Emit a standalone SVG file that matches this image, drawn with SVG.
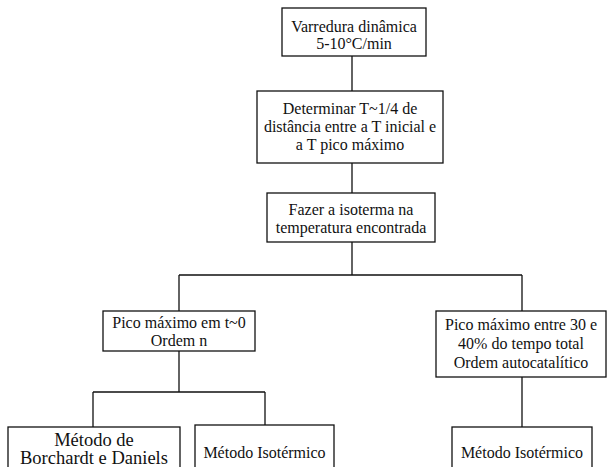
<svg xmlns="http://www.w3.org/2000/svg" width="607" height="467" viewBox="0 0 607 467">
<style>
.box{fill:#fff;stroke:#111;stroke-width:1.3}
.ln{fill:none;stroke:#111;stroke-width:1.3}
.t{font-family:'Liberation Serif','Times New Roman',serif;font-size:16px;fill:#111;text-anchor:middle}
.big{font-size:18.5px}
</style>
<rect width="607" height="467" fill="#fff"/>
<g id="connectors">
<path class="ln" d="M352 56V91M352 163V193M352 242V275M179 275H522M179 275V311M522 275V311M179 351V392M93 392H265M93 392V427M265 392V425M522 377V427"/>
</g>
<g class="t" font-family="Liberation Serif, serif">
<g id="n1"><rect class="box" x="282" y="8" width="144" height="48"/><text x="354" y="32">Varredura dinâmica</text><text x="354" y="49">5-10°C/min</text></g>
<g id="n2"><rect class="box" x="257" y="91" width="186" height="72"/><text x="350" y="114">Determinar T~1/4 de</text><text x="350" y="132">distância entre a T inicial e</text><text x="350" y="150">a T pico máximo</text></g>
<g id="n3"><rect class="box" x="267" y="193" width="168" height="49"/><text x="351" y="215">Fazer a isoterma na</text><text x="351" y="233">temperatura encontrada</text></g>
<g id="n4"><rect class="box" x="103" y="311" width="152" height="40"/><text x="179" y="328">Pico máximo em t~0</text><text x="179" y="346">Ordem n</text></g>
<g id="n5"><rect class="box" x="436" y="311" width="170" height="66"/><text x="521" y="330">Pico máximo entre 30 e</text><text x="521" y="349">40% do tempo total</text><text x="521" y="368">Ordem autocatalítico</text></g>
<g id="n6"><rect class="box" x="8" y="427" width="172" height="60"/><text class="big" x="94" y="446">Método de</text><text class="big" x="94" y="464">Borchardt e Daniels</text></g>
<g id="n7"><rect class="box" x="195" y="425" width="139" height="60"/><text x="264.5" y="458">Método Isotérmico</text></g>
<g id="n8"><rect class="box" x="452" y="427" width="140" height="60"/><text x="522" y="458">Método Isotérmico</text></g>
</g>
</svg>
